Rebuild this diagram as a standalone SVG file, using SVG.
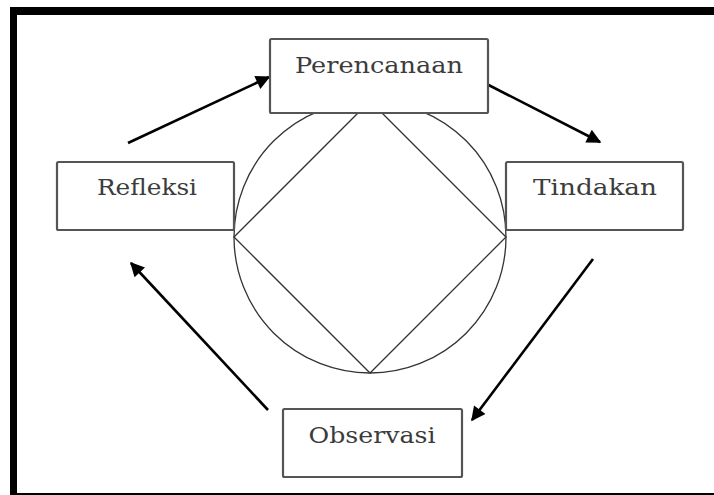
<svg xmlns="http://www.w3.org/2000/svg" width="714" height="495" viewBox="0 0 714 495">
<defs>
<style>
.box{fill:#fff;stroke:#555;stroke-width:2.2}
.lbl{font-family:"DejaVu Serif","Liberation Serif",serif;font-size:23px;fill:#3c3c3c;text-anchor:middle}
.thin{fill:none;stroke:#333;stroke-width:1.3}
.arr{stroke:#000;stroke-width:2.6;fill:none;marker-end:url(#ah)}
</style>
<marker id="ah" viewBox="0 0 10 10" refX="9" refY="5" markerWidth="6.5" markerHeight="5.5" orient="auto" markerUnits="strokeWidth">
<path d="M0,0 L10,5 L0,10 Z" fill="#000"/>
</marker>
</defs>
<rect width="714" height="495" fill="#fff"/>
<g id="frame">
<rect x="10" y="7" width="704" height="8" fill="#000"/>
<rect x="10" y="7" width="7" height="488" fill="#000"/>
<rect x="10" y="493" width="704" height="2" fill="#000"/>
</g>
<g id="cycle">
<circle class="thin" cx="370" cy="237" r="136"/>
<path class="thin" d="M234,237 L370,101 L506,237 L370,373 Z"/>
</g>
<g id="connectors">
<line class="arr" x1="128" y1="143" x2="269" y2="77"/>
<line class="arr" x1="473" y1="77" x2="600" y2="142"/>
<line class="arr" x1="593" y1="259" x2="472" y2="420"/>
<line class="arr" x1="268" y1="410" x2="131" y2="263"/>
</g>
<g id="perencanaan">
<rect class="box" x="270" y="39" width="218" height="74" rx="1.5"/>
<text class="lbl" x="379" y="73" textLength="168" lengthAdjust="spacingAndGlyphs">Perencanaan</text>
</g>
<g id="refleksi">
<rect class="box" x="57" y="162" width="177" height="68" rx="1.5"/>
<text class="lbl" x="147" y="195" textLength="100" lengthAdjust="spacingAndGlyphs">Refleksi</text>
</g>
<g id="tindakan">
<rect class="box" x="506" y="162" width="177" height="68" rx="1.5"/>
<text class="lbl" x="595" y="195" textLength="124" lengthAdjust="spacingAndGlyphs">Tindakan</text>
</g>
<g id="observasi">
<rect class="box" x="283" y="409" width="179" height="68" rx="1.5"/>
<text class="lbl" x="372" y="443" textLength="127" lengthAdjust="spacingAndGlyphs">Observasi</text>
</g>
</svg>
